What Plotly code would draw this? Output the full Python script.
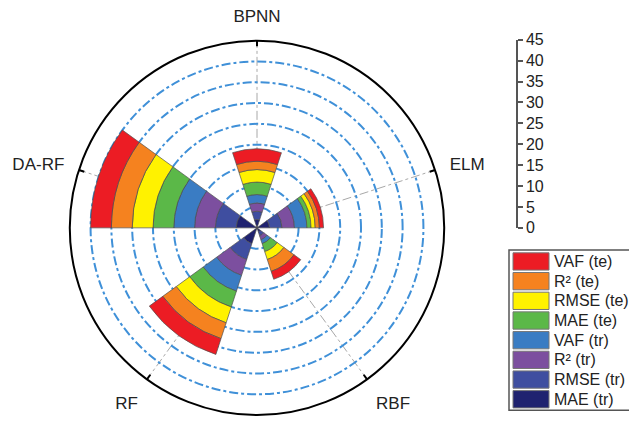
import plotly.graph_objects as go

categories = ["BPNN", "ELM", "RBF", "RF", "DA-RF"]
series_names = ["VAF (te)", "R² (te)", "RMSE (te)", "MAE (te)",
                "VAF (tr)", "R² (tr)", "RMSE (tr)", "MAE (tr)"]
series_colors = ["#EC1C24", "#F5821F", "#FFF200", "#5BB848",
                 "#3A7CC3", "#7C4F9F", "#3F4EA0", "#1F2270"]
vaf_te = [3, 1, 2, 4, 5]
r2_te = [2, 1, 3, 4, 5]
rmse_te = [3, 1, 2, 4, 5]
mae_te = [3, 1, 2, 4, 5]
vaf_tr = [2, 3, 1, 4, 5]
r2_tr = [2, 3, 1, 4, 5]
rmse_tr = [2, 3, 1, 4, 5]
mae_tr = [2, 3, 1, 4, 5]
series_values = [vaf_te, r2_te, rmse_te, mae_te, vaf_tr, r2_tr, rmse_tr, mae_tr]
scale_ticks = [0, 5, 10, 15, 20, 25, 30, 35, 40, 45]
r_max = 45

W, H = 629, 426
FONT = "Liberation Sans, Arial, sans-serif"

fig = go.Figure()
# innermost series first (stacked outward)
for name, color, vals in reversed(list(zip(series_names, series_colors, series_values))):
    fig.add_trace(go.Barpolar(
        r=vals, theta=categories, name=name, width=0.5,
        marker=dict(color=color, line=dict(color="#505050", width=0.7)),
        showlegend=False,
    ))

# short black inward tick marks on the rim at each category
tick_r, tick_t = [], []
for c in categories:
    tick_r += [r_max * 0.97, r_max, None]
    tick_t += [c, c, None]
fig.add_trace(go.Scatterpolar(r=tick_r, theta=tick_t, mode="lines",
                              line=dict(color="black", width=2),
                              hoverinfo="skip", showlegend=False, cliponaxis=False))

# invisible trace to carry the stand-alone radial scale on the right
fig.add_trace(go.Scatter(x=[0], y=[0], mode="markers", marker=dict(opacity=0),
                         hoverinfo="skip", showlegend=False))

def px_x(p):
    return p / W

def px_y(p):
    return 1 - p / H

cx, cy, R = 257, 229, 195

fig.update_layout(
    width=W, height=H,
    margin=dict(l=0, r=0, t=0, b=0),
    paper_bgcolor="white", plot_bgcolor="white",
    font=dict(family=FONT, color="#222222"),
    polar=dict(
        domain=dict(x=[px_x(cx - R), px_x(cx + R)], y=[px_y(cy + R), px_y(cy - R)]),
        bgcolor="white",
        barmode="stack",
        radialaxis=dict(range=[0, r_max], dtick=5, showticklabels=False, ticks="",
                        showline=False, showgrid=True, gridcolor="#3F90D8",
                        gridwidth=1.6, griddash="dashdot"),
        angularaxis=dict(direction="clockwise", rotation=90,
                         showline=True, linecolor="black", linewidth=2,
                         ticks="outside", ticklen=11, tickwidth=1,
                         tickcolor="rgba(0,0,0,0)",
                         showgrid=True, gridcolor="#A8A8A8", gridwidth=1.2,
                         griddash="dashdot",
                         tickfont=dict(size=17, color="#222222", family=FONT)),
    ),
    xaxis=dict(domain=[0.83, 0.84], visible=False, range=[-1, 1]),
    yaxis=dict(domain=[px_y(229), px_y(33)], range=[0, r_max], anchor="free",
               position=px_x(517), side="right", tickvals=scale_ticks,
               ticks="outside", ticklen=5, tickcolor="#555555", tickwidth=1.5,
               showline=True, linecolor="#555555", linewidth=1.5,
               showgrid=False, zeroline=False,
               tickfont=dict(size=16, color="#222222", family=FONT)),
    showlegend=False,
)

# hand-drawn legend with wide swatches
box_l, box_t, box_b = 509, 252, 419
fig.add_shape(type="rect", xref="paper", yref="paper",
              x0=px_x(box_l), x1=px_x(660), y0=px_y(box_b), y1=px_y(box_t),
              line=dict(color="#555555", width=1.5), fillcolor="rgba(0,0,0,0)")
row_h = 20.5
for i, (name, color) in enumerate(zip(series_names, series_colors)):
    top = box_t + 3 + i * row_h
    fig.add_shape(type="rect", xref="paper", yref="paper",
                  x0=px_x(513), x1=px_x(549), y0=px_y(top + 18), y1=px_y(top),
                  line=dict(color="#777777", width=1), fillcolor=color)
    fig.add_annotation(xref="paper", yref="paper", x=px_x(552), y=px_y(top + 9),
                       text=name, showarrow=False, xanchor="left", yanchor="middle",
                       font=dict(size=16, color="#222222", family=FONT))

fig.write_html("out.html")
